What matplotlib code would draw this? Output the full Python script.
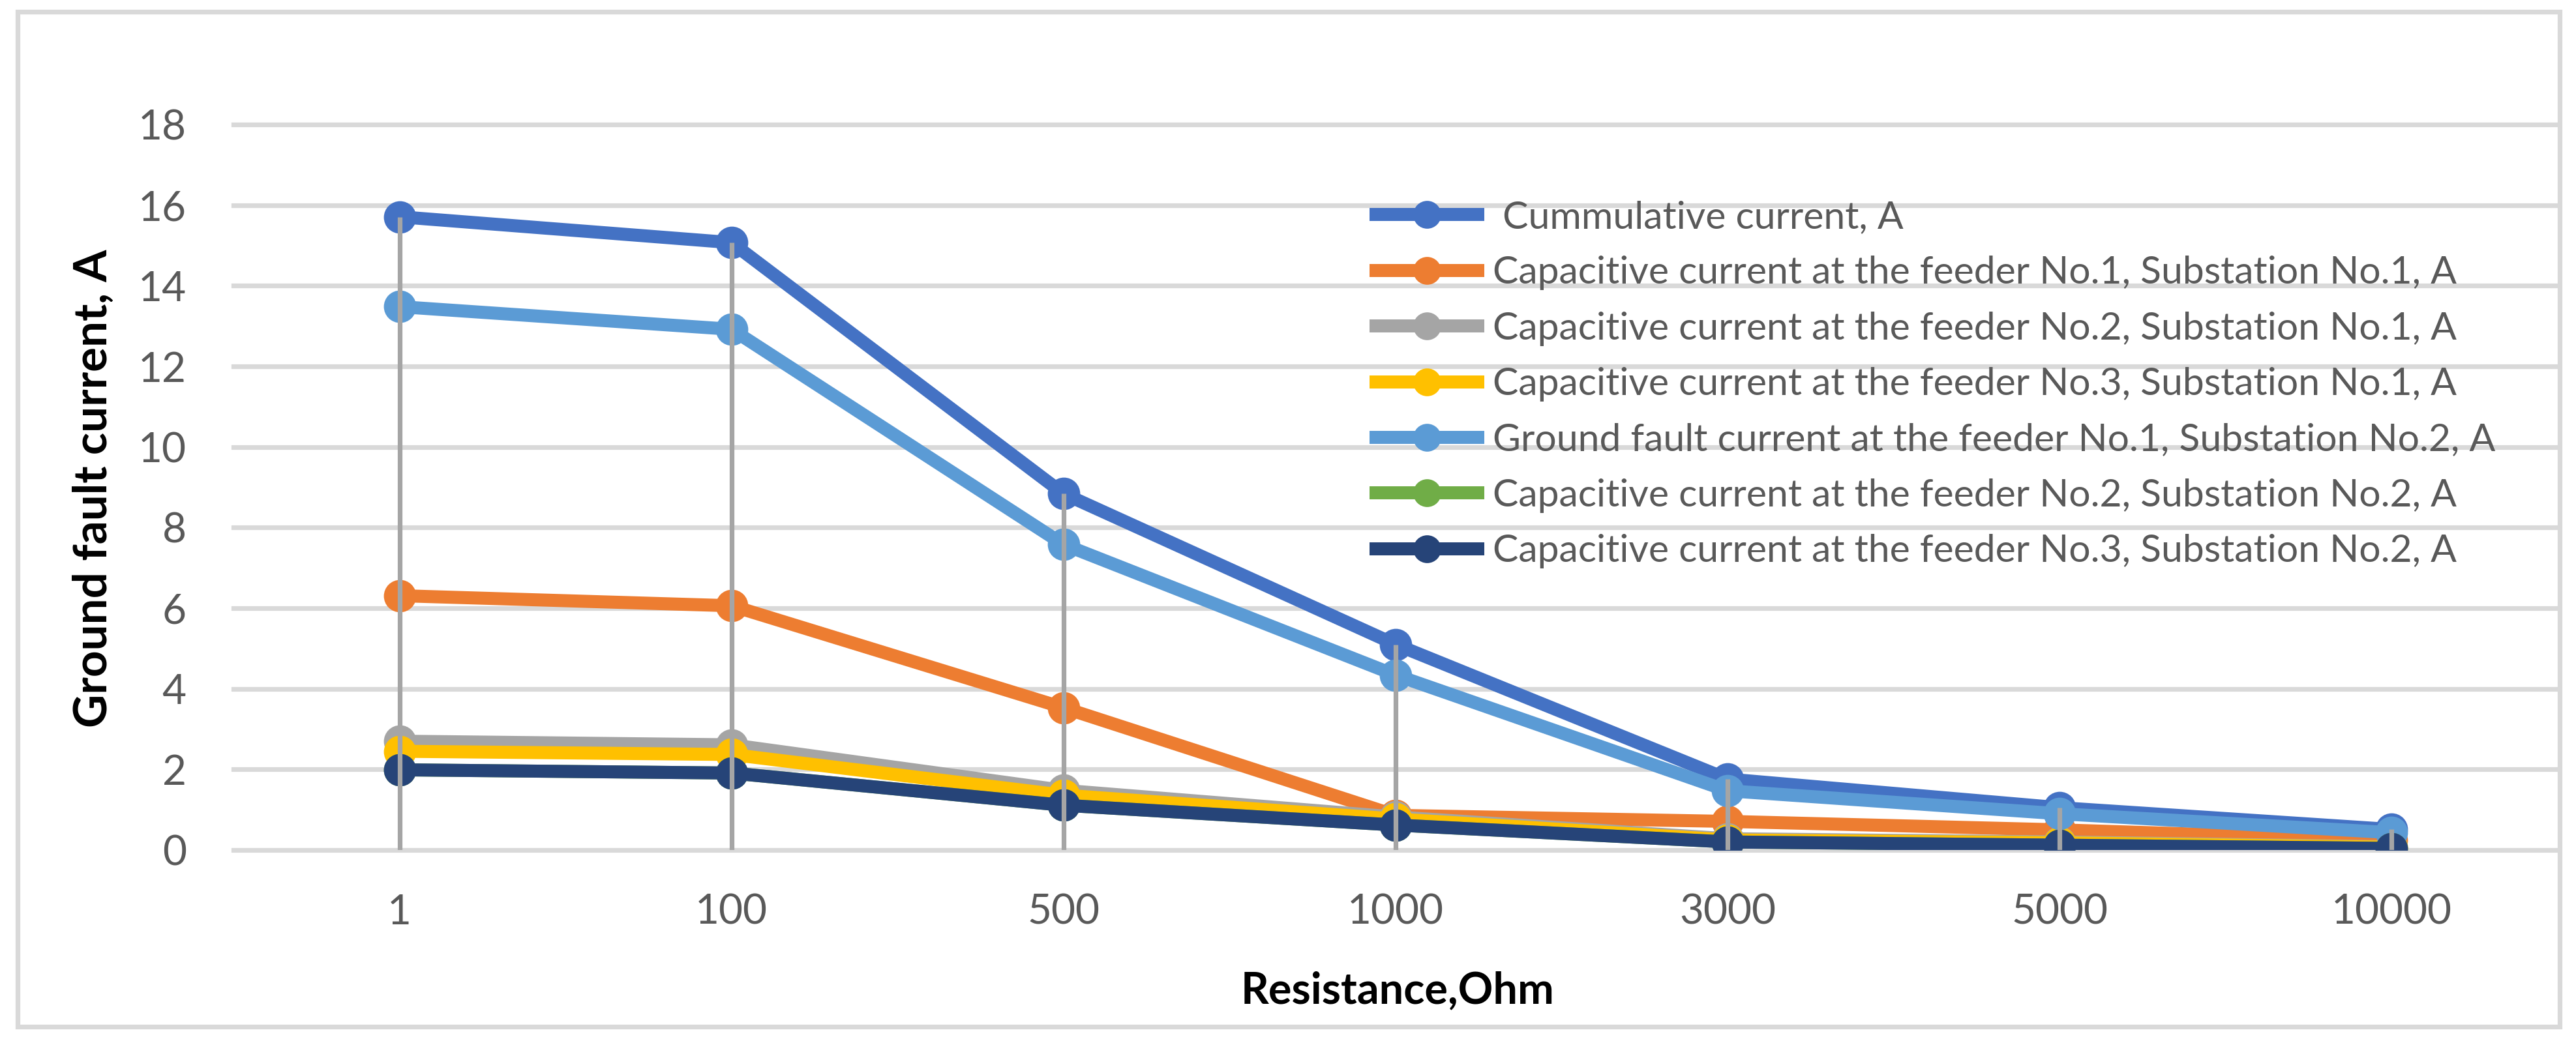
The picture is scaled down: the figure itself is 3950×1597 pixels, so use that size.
import matplotlib
matplotlib.use("Agg")
import matplotlib.pyplot as plt
from matplotlib.patches import Rectangle

plt.rcParams['font.family'] = ['Lato', 'DejaVu Sans']

resistance = ['1', '100', '500', '1000', '3000', '5000', '10000']
cumulative = [15.71, 15.07, 8.84, 5.10, 1.76, 1.05, 0.51]
cap_f1_s1 = [6.31, 6.06, 3.53, 0.86, 0.71, 0.50, 0.24]
cap_f2_s1 = [2.70, 2.61, 1.48, 0.82, 0.28, 0.20, 0.08]
cap_f3_s1 = [2.45, 2.37, 1.36, 0.77, 0.25, 0.18, 0.07]
gf_f1_s2 = [13.48, 12.92, 7.58, 4.34, 1.47, 0.90, 0.43]
cap_f2_s2 = [1.99, 1.91, 1.11, 0.62, 0.20, 0.12, 0.04]
cap_f3_s2 = [1.99, 1.91, 1.11, 0.62, 0.20, 0.12, 0.04]

labels = [
    ' Cummulative current, A',
    'Capacitive current at the feeder No.1, Substation No.1, A',
    'Capacitive current at the feeder No.2, Substation No.1, A',
    'Capacitive current at the feeder No.3, Substation No.1, A',
    'Ground fault current at the feeder No.1, Substation No.2, A',
    'Capacitive current at the feeder No.2, Substation No.2, A',
    'Capacitive current at the feeder No.3, Substation No.2, A',
]
series = [cumulative, cap_f1_s1, cap_f2_s1, cap_f3_s1, gf_f1_s2, cap_f2_s2, cap_f3_s2]
colors = ['#4472C4', '#ED7D31', '#A5A5A5', '#FFC000', '#5B9BD5', '#70AD47', '#264478']

W, H, DPI = 3950, 1597, 200
fig = plt.figure(figsize=(W / DPI, H / DPI), dpi=DPI)
fig.patches.append(Rectangle((27 / W, 1 - 1575 / H), (3925 - 27) / W, (1575 - 18) / H,
                             transform=fig.transFigure, fill=False, edgecolor='#D9D9D9',
                             linewidth=2.6, zorder=0))

ax = fig.add_axes([358 / W, 1 - 1304 / H, (3922 - 358) / W, (1304 - 191) / H])
x = list(range(len(resistance)))
for vals, lab, col in zip(series, labels, colors):
    ax.plot(x, vals, color=col, linewidth=7.2, marker='o', markersize=16.9,
            solid_capstyle='butt', solid_joinstyle='round', label=lab, zorder=3)

tops = [max(v) for v in zip(*series)]
ax.vlines(x, 0, tops, colors='#A5A5A5', linewidth=2.6, zorder=4)

ax.set_xlim(-0.5, len(resistance) - 0.5)
ax.set_ylim(0, 18)
ax.set_yticks(range(0, 19, 2))
ax.set_xticks(x)
ax.set_xticklabels(resistance)
ax.yaxis.grid(True, color='#D9D9D9', linewidth=2.6, zorder=0)
for gl in ax.get_ygridlines():
    gl.set_clip_on(False)
ax.set_axisbelow(True)
for s in ax.spines.values():
    s.set_visible(False)
ax.tick_params(axis='both', length=0, labelsize=23, labelcolor='#595959')
ax.tick_params(axis='y', pad=26)
ax.tick_params(axis='x', pad=24)

fig.text(143 / W, 1 - 749 / H, 'Ground fault current, A', rotation=90, ha='center',
         va='center', fontsize=25.5, fontweight='bold', color='black')
fig.text(2143 / W, 1 - 1520 / H, 'Resistance,Ohm', ha='center', va='center',
         fontsize=24, fontweight='bold', color='black')

leg = ax.legend(loc='upper left', bbox_to_anchor=(2100 / W, 1 - 307 / H),
                bbox_transform=fig.transFigure, frameon=False, fontsize=21.2,
                handlelength=2.99, handletextpad=0.22, labelspacing=0.55,
                borderpad=0, borderaxespad=0, markerscale=0.85)
for t in leg.get_texts():
    t.set_color('#595959')

fig.savefig('out.png', dpi=DPI)
